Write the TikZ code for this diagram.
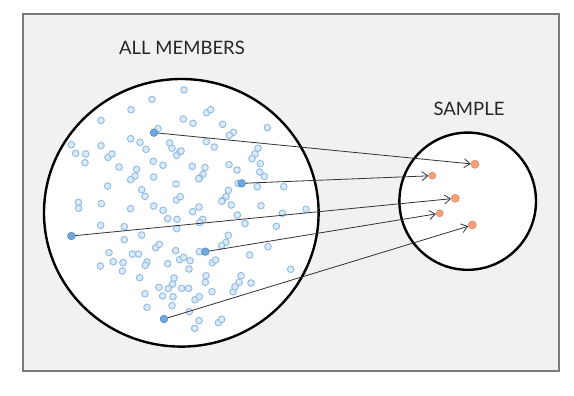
\documentclass[tikz,border=0pt]{standalone}
\usepackage{fontspec}
\setmainfont{Lato}
\usetikzlibrary{arrows.meta}
\definecolor{framegray}{HTML}{7A7A7A}
\definecolor{bgfill}{HTML}{F1F1F1}
\definecolor{dotfill}{HTML}{DCE9F7}
\definecolor{dotline}{HTML}{8DBBE8}
\definecolor{srcfill}{HTML}{6FA8DC}
\definecolor{srcline}{HTML}{5B96CF}
\definecolor{tgtfill}{HTML}{F4A07A}
\definecolor{tgtline}{HTML}{E8875A}
\definecolor{txt}{HTML}{262626}
\tikzset{
  hollowdot/.style={circle, draw=dotline, fill=dotfill, line width=0.9pt, minimum size=6.6pt, inner sep=0pt},
  srcdot/.style={circle, draw=srcline, fill=srcfill, line width=0.6pt, minimum size=7.4pt, inner sep=0pt},
  tgtdot/.style={circle, draw=tgtline, fill=tgtfill, line width=0.6pt, minimum size=#1, inner sep=0pt},
  tgtdot/.default=8pt,
  link/.style={draw=black!80, line width=0.8pt, -{Straight Barb[length=6pt,width=9pt,line width=0.8pt]}},
  lbl/.style={text=txt, font=\fontsize{18.5}{20}\selectfont, inner sep=0pt},
  bigring/.style={draw=black, line width=2.4pt, fill=white}
}
\begin{document}
\begin{tikzpicture}[x=1pt,y=-1pt]
\useasboundingbox (0,0) rectangle (574,396);
\draw[draw=framegray, fill=bgfill, line width=2pt] (23,14.3) rectangle (559,370.5);
\node[lbl] (allt) at (182,48.3) {ALL MEMBERS};
\node[lbl] (sampt) at (469,109) {SAMPLE};
\draw[bigring] (181.3,212.8) ellipse [x radius=137.3, y radius=133.8];
\draw[bigring] (467.7,201.2) ellipse [x radius=68.3, y radius=68.6];
\foreach \a/\b in {432/30, 336/58, 273/89, 500/98, 512/89, 183/121, 430/117, 459/130, 548/133, 682/143,
  354/146, 580/157, 568/166, 94/194, 107/220, 137/222, 135/248, 183/197, 272/176, 300/187, 318/208,
  389/189, 396/205, 410/226, 420/215, 423/213, 499/185, 523/201, 654/205, 645/222, 636/236, 661/251,
  204/232, 216/222, 237/261, 340/244, 369/256, 290/268, 285/288, 272/299, 341/291, 457/259, 495/263,
  489/283, 478/294, 476/296, 567/254, 591/270, 659/276, 673/289, 203/318, 408/312, 305/329, 315/349,
  595/310, 652/320, 731/320, 565/331, 558/350, 547/362, 545/364, 574/375, 409/360, 421/350, 115/367,
  116/385, 184/371, 272/386, 341/378, 369/391, 383/416, 411/418, 410/446, 458/395, 477/381, 663/377,
  798/388, 727/400, 592/405, 615/431, 488/418, 479/428, 182/436, 253/440, 253/479, 305/465, 709/439,
  565/466, 558/487, 545/497, 347/503, 358/493, 207/518, 220/545, 249/548, 247/573, 181/558, 277/522,
  296/522, 321/546, 316/556, 383/551, 407/512, 419/539, 431/532, 450/542, 447/567, 478/515, 517/548,
  527/540, 629/525, 684/500, 752/568, 299/593, 357/622, 385/626, 398/612, 402/594, 425/625, 446/625,
  368/648, 399/650, 396/677, 315/641, 321/682, 465/659, 478/650, 496/607, 498/587, 516/635, 579/635,
  585/620, 597/607, 603/587, 633/609, 448/695, 477/722, 464/745, 535/728, 545/718}
  \draw[draw=dotline, fill=dotfill, line width=0.9pt] ({40+\a/3},{80+\b/3}) circle[radius=3.3pt];
\node[srcdot] (s1) at ({40+342/3},{80+158/3}) {};
\node[srcdot] (s2) at ({40+605/3},{80+310/3}) {};
\node[srcdot] (s3) at ({40+94/3},{80+468/3}) {};
\node[srcdot] (s4) at ({40+496/3},{80+515/3}) {};
\node[srcdot] (s5) at ({40+372/3},{80+717/3}) {};
\node[tgtdot] (t1) at (475,164.3) {};
\node[tgtdot=7pt] (t2) at (432.3,175.7) {};
\node[tgtdot] (t3) at (455.3,198.3) {};
\node[tgtdot=7pt] (t4) at (439.7,213.3) {};
\node[tgtdot] (t5) at (472.3,225) {};
\draw[link] (s1.center) -- (t1);
\draw[link] (s2.center) -- (t2);
\draw[link] (s3.center) -- (t3);
\draw[link] (s4.center) -- (t4);
\draw[link] (s5.center) -- (t5);
\foreach \n in {1,...,5} \node[srcdot] at (s\n) {};
\end{tikzpicture}
\end{document}
